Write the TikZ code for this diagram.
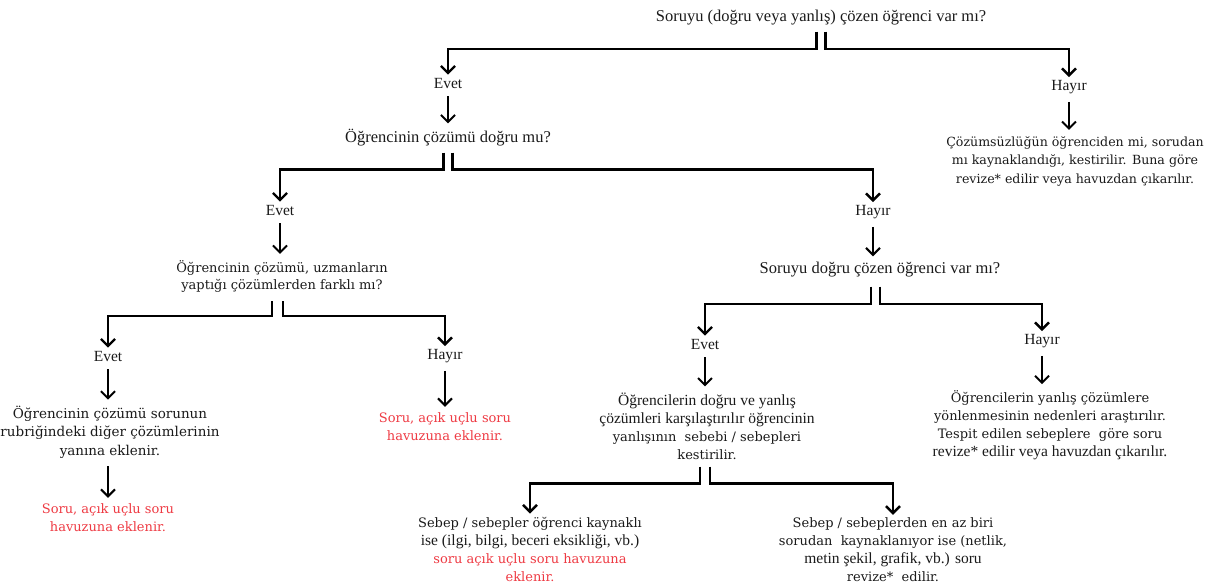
\documentclass[tikz,border=0pt]{standalone}
\usepackage{fontspec}
\setmainfont{DejaVu Serif}
\newfontfamily\qfont{Liberation Serif}
\usetikzlibrary{arrows.meta}
\definecolor{ink}{HTML}{1A1A1A}
\definecolor{redtxt}{RGB}{238,58,67}
\newcommand\altline{\qfont\fontsize{15.5}{18}\selectfont}
\tikzset{
  question/.style={font=\qfont\fontsize{16.5}{18}\selectfont, align=center, inner sep=1pt, text=ink},
  answer/.style={font=\qfont\fontsize{15.5}{17}\selectfont, inner sep=1pt, text=ink},
  body/.style={font=\fontsize{13}{18}\selectfont, align=center, inner sep=1pt, text=ink},
  redbody/.style={body, text=redtxt},
  branch/.style={line width=2.4pt, line join=miter, shorten >=2pt,
    -{Straight Barb[length=7pt,width=14pt]}},
  down/.style={line width=2pt, shorten <=7pt, shorten >=5pt,
    -{Straight Barb[length=7pt,width=14pt]}},
}
\begin{document}
\begin{tikzpicture}[x=1pt,y=-1pt]
\useasboundingbox (0,0) rectangle (1223,584);

% questions and answers
\node[question] (q1) at (821,18) {Soruyu (doğru veya yanlış) çözen öğrenci var mı?};
\node[answer] (e1) at (448,83) {Evet};
\node[answer] (h1) at (1069,87) {Hayır};
\node[question] (q2) at (448,138) {Öğrencinin çözümü doğru mu?};
\node[body, font=\fontsize{12.6}{18.5}\selectfont] (b1) at (1075,161) {Çözümsüzlüğün öğrenciden mi, sorudan\\ mı kaynaklandığı, kestirilir. Buna göre\\ revize* edilir veya havuzdan çıkarılır.};

\node[answer] (e2) at (280,210) {Evet};
\node[answer] (h2) at (873,212) {Hayır};
\node[body, font=\fontsize{13}{17}\selectfont] (q3) at (282,276) {Öğrencinin çözümü, uzmanların\\ yaptığı çözümlerden farklı mı?};
\node[question] (q4) at (880,270) {Soruyu doğru çözen öğrenci var mı?};

\node[answer] (e3) at (108,356) {Evet};
\node[answer] (h3) at (445,356) {Hayır};
\node[body, font=\fontsize{13.5}{18.5}\selectfont] (b3) at (110,432) {Öğrencinin çözümü sorunun\\rubriğindeki diğer çözümlerinin\\yanına eklenir.};
\node[redbody] (r3) at (108,518) {Soru, açık uçlu soru\\havuzuna eklenir.};
\node[redbody] (r4) at (445,427) {Soru, açık uçlu soru\\havuzuna eklenir.};

\node[answer] (e4) at (705,344) {Evet};
\node[answer] (h4) at (1042,341) {Hayır};
\node[body] (b4) at (707,426) {{\altline Öğrencilerin doğru ve yanlış}\\
  {\altline çözümleri karşılaştırılır öğrencinin}\\
  yanlışının~ sebebi / sebepleri\\kestirilir.};
\node[body] (b5) at (1050,425) {Öğrencilerin yanlış çözümlere\\yönlenmesinin nedenleri araştırılır.\\
  Tespit edilen sebeplere~ göre soru\\
  {\altline revize* edilir veya havuzdan çıkarılır.}};

\node[body] (b6) at (530,549) {Sebep / sebepler öğrenci kaynaklı\\
  {\altline ise (ilgi, bilgi, beceri eksikliği, vb.)}\\
  \textcolor{redtxt}{soru açık uçlu soru havuzuna}\\\textcolor{redtxt}{eklenir.}};
\node[body] (b7) at (893,550) {Sebep / sebeplerden en az biri\\sorudan~ kaynaklanıyor ise (netlik,\\
  {\altline metin şekil, grafik, vb.) soru}\\revize*~ edilir.};

% two-way splits
\draw[branch] ([xshift=-4.5pt,yshift=-5pt]q1.south) -- ++(0,17) -| (e1);
\draw[branch] ([xshift=4.5pt,yshift=-5pt]q1.south) -- ++(0,17) -| (h1);
\draw[branch] ([xshift=-4.5pt,yshift=-5pt]q2.south) -- ++(0,17) -| (e2);
\draw[branch] ([xshift=4.5pt,yshift=-5pt]q2.south) -- ++(0,17) -| (h2);
\draw[branch] ([xshift=-10pt,yshift=-8pt]q3.south) -- ++(0,15) -| (e3);
\draw[branch] ([xshift=1pt,yshift=-8pt]q3.south) -- ++(0,15) -| (h3);
\draw[branch] ([xshift=-9pt,yshift=-8pt]q4.south) -- ++(0,17) -| (e4);
\draw[branch] ([xshift=0pt,yshift=-8pt]q4.south) -- ++(0,17) -| (h4);
\draw[branch] ([xshift=-7pt,yshift=-6pt]b4.south) -- ++(0,17) -| (b6);
\draw[branch] ([xshift=3pt,yshift=-6pt]b4.south) -- ++(0,17) -| (b7);

% single steps, kept vertical under each label
\draw[down] (e1) -- (e1 |- q2.north);
\draw[down] (h1) -- (h1 |- b1.north);
\draw[down] (e2) -- (e2 |- q3.north);
\draw[down] (h2) -- (h2 |- q4.north);
\draw[down] (e3) -- (e3 |- b3.north);
\draw[down] (h3) -- (h3 |- r4.north);
\draw[down] (e3 |- b3.south) -- (e3 |- r3.north);
\draw[down] (e4) -- (e4 |- b4.north);
\draw[down] (h4) -- (h4 |- b5.north);
\end{tikzpicture}
\end{document}
